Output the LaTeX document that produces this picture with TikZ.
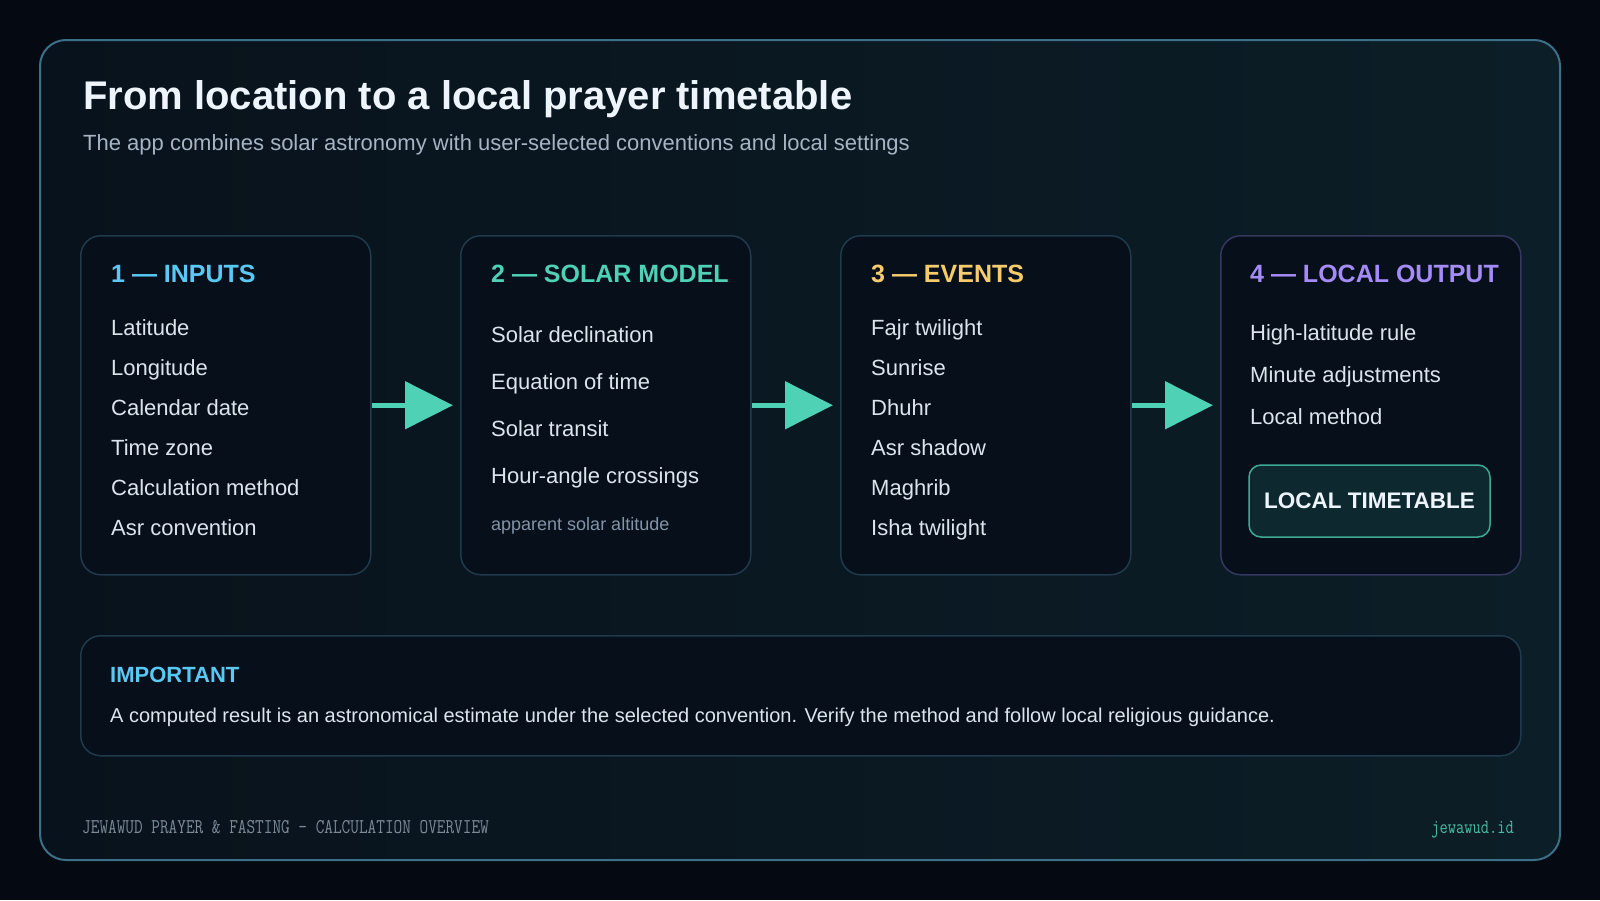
\documentclass[tikz,border=0pt]{standalone}
\usepackage{fontspec}
\setmainfont{Liberation Sans}
\newfontfamily\footfont[FakeStretch=0.8]{Latin Modern Mono}
\usepackage{tikz}
\usetikzlibrary{arrows.meta,positioning}

\definecolor{pagebg}{HTML}{050A12}
\definecolor{cardA}{HTML}{08121C}
\definecolor{cardB}{HTML}{0C1E27}
\definecolor{cardline}{HTML}{3B7088}
\definecolor{boxfill}{HTML}{07101A}
\definecolor{boxline}{HTML}{1F3A4C}
\definecolor{outline}{HTML}{34375E}
\definecolor{titlecol}{HTML}{EEF4FB}
\definecolor{subcol}{HTML}{A6B4C4}
\definecolor{itemcol}{HTML}{DCE5EE}
\definecolor{notecol}{HTML}{8393A8}
\definecolor{skycol}{HTML}{5AC8F5}
\definecolor{tealcol}{HTML}{4FD1B5}
\definecolor{goldcol}{HTML}{F6CB6C}
\definecolor{violetcol}{HTML}{A58BF8}
\definecolor{ttfill}{HTML}{0D292F}
\definecolor{ttline}{HTML}{3EAA94}
\definecolor{footcol}{HTML}{7C8A98}
\definecolor{sitecol}{HTML}{4DBBA2}

\newcommand{\fsz}[1]{\fontsize{#1}{#1}\selectfont}

\begin{document}
\begin{tikzpicture}[x=1pt,y=-1pt,>={Triangle[length=48pt,width=47pt]}]
\tikzstyle{stage} = [draw=boxline,line width=1.5pt,fill=boxfill,rounded corners=20pt,anchor=north west,minimum width=290pt,minimum height=339pt]
\tikzstyle{head} = [anchor=base west,inner sep=0pt,font=\bfseries\fsz{25}]
\tikzstyle{item} = [anchor=base west,inner sep=0pt,text=itemcol,font=\fsz{22}]
\tikzstyle{flow} = [->,draw=tealcol,fill=tealcol,line width=5pt,shorten >=7pt]
    \useasboundingbox (0,0) rectangle (1600,900);
    \fill[pagebg] (0,0) rectangle (1600,900);
    \shade[rounded corners=26pt,left color=cardA,right color=cardB] (40,40) rectangle (1560,860);
    \draw[cardline,line width=2pt,rounded corners=26pt] (40,40) rectangle (1560,860);

    \node[anchor=base west,inner sep=0pt,text=titlecol,font=\bfseries\fsz{40}] (title) at (83,109) {From location to a local prayer timetable};
    \node[anchor=base west,inner sep=0pt,text=subcol,font=\fsz{22}] (subtitle) at (83,150) {The app combines solar astronomy with user-selected conventions and local settings};

    % stages
    \node[stage] (inputs) at (80,235) {};
    \node[stage] (solar) at (460,235) {};
    \node[stage] (events) at (840,235) {};
    \node[stage,draw=outline,minimum width=300pt] (output) at (1220,235) {};

    \node[head,text=skycol] (inputsH) at (111,282) {1 — INPUTS};
    \node[item] (lat) at (111,335) {Latitude};
    \node[item] (lon) at (111,375) {Longitude};
    \node[item] (date) at (111,415) {Calendar date};
    \node[item] (zone) at (111,455) {Time zone};
    \node[item] (method) at (111,495) {Calculation method};
    \node[item] (asrconv) at (111,535) {Asr convention};

    \node[head,text=tealcol] (solarH) at (491,282) {2 — SOLAR MODEL};
    \node[item] (decl) at (491,342) {Solar declination};
    \node[item] (eqtime) at (491,389) {Equation of time};
    \node[item] (transit) at (491,436) {Solar transit};
    \node[item] (hourangle) at (491,483) {Hour-angle crossings};
    \node[item,text=notecol,font=\fsz{18}] (altitude) at (491,530) {apparent solar altitude};

    \node[head,text=goldcol] (eventsH) at (871,282) {3 — EVENTS};
    \node[item] (fajr) at (871,335) {Fajr twilight};
    \node[item] (sunrise) at (871,375) {Sunrise};
    \node[item] (dhuhr) at (871,415) {Dhuhr};
    \node[item] (asr) at (871,455) {Asr shadow};
    \node[item] (maghrib) at (871,495) {Maghrib};
    \node[item] (isha) at (871,535) {Isha twilight};

    \node[head,text=violetcol] (outputH) at (1250,282) {4 — LOCAL OUTPUT};
    \node[item] (highlat) at (1250,340) {High-latitude rule};
    \node[item] (minutes) at (1250,382) {Minute adjustments};
    \node[item] (localm) at (1250,424) {Local method};
    \node[draw=ttline,line width=1.5pt,fill=ttfill,rounded corners=12pt,minimum width=241pt,minimum height=72pt,text=titlecol,font=\bfseries\fsz{22.5}] (timetable) at (1369.5,501) {LOCAL TIMETABLE};

    \draw[flow] (inputs.east) -- (solar.west);
    \draw[flow] (solar.east) -- (events.west);
    \draw[flow] (events.east) -- (output.west);

    % note
    \node[draw=boxline,line width=1.5pt,fill=boxfill,rounded corners=20pt,anchor=north west,minimum width=1440pt,minimum height=120pt] (note) at (80,635) {};
    \node[anchor=base west,inner sep=0pt,text=skycol,font=\bfseries\fsz{22}] (noteH) at (110,682) {IMPORTANT};
    \node[anchor=base west,inner sep=0pt,text=itemcol,font=\fsz{20}] (noteT) at (110,722) {A computed result is an astronomical estimate under the selected convention. Verify the method and follow local religious guidance.};

    \node[anchor=base west,inner sep=0pt,text=footcol,font=\footfont\fsz{21}] (foot) at (82,833) {JEWAWUD PRAYER \& FASTING — CALCULATION OVERVIEW};
    \node[anchor=base east,inner sep=0pt,text=sitecol,font=\footfont\fsz{20}] (site) at (1514,833) {jewawud.id};
\end{tikzpicture}
\end{document}
